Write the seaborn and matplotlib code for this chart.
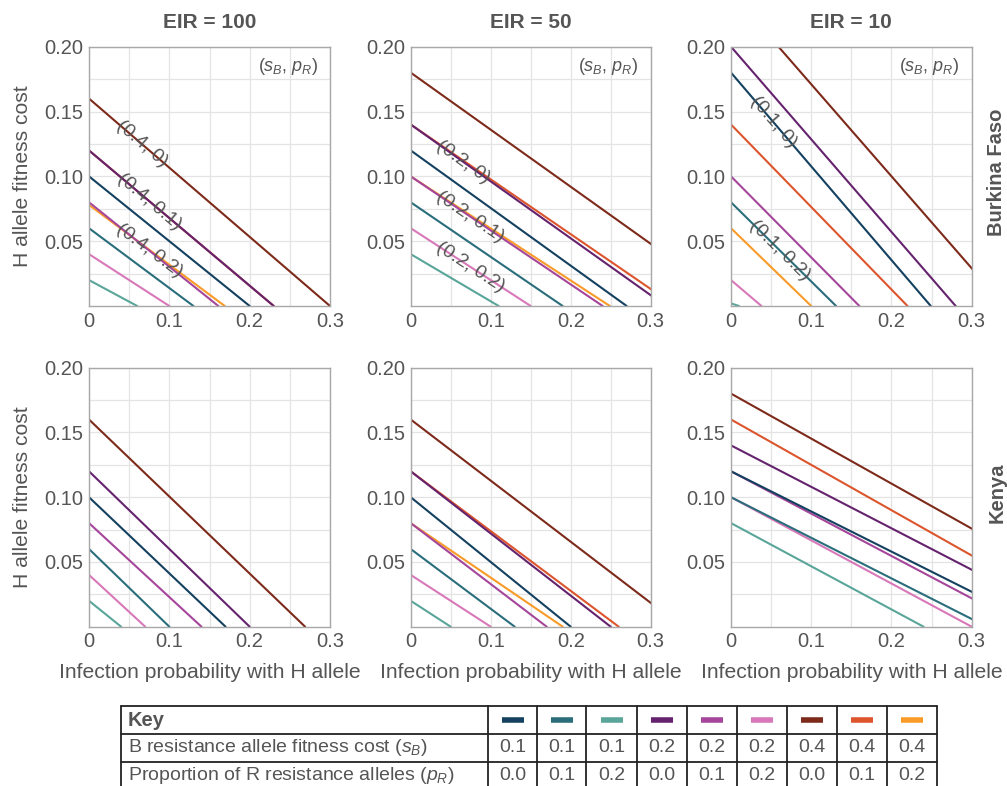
import math
import pandas as pd
import seaborn as sns
import matplotlib.pyplot as plt

# Key: B resistance allele fitness cost (s_B) and proportion of R alleles (p_R)
s_B = [0.1, 0.1, 0.1, 0.2, 0.2, 0.2, 0.4, 0.4, 0.4]
p_R = [0.0, 0.1, 0.2, 0.0, 0.1, 0.2, 0.0, 0.1, 0.2]
key_colors = ['#14415f', '#2a6e7c', '#5aa59a', '#65236e', '#a5469b',
              '#d878b9', '#7d2a1a', '#dc552d', '#f99b28']

eir_levels = [100, 50, 10]
sites = ['Burkina Faso', 'Kenya']

# Threshold lines per panel, in key order: y-intercept (H fitness cost at x=0)
# and x-intercept (infection probability where cost reaches 0). None = not shown.
bf_100_y0 = [0.10, 0.06, 0.02, 0.12, 0.08, 0.04, 0.16, 0.12, 0.078]
bf_100_x0 = [0.20, 0.13, 0.06, 0.23, 0.161, 0.10, 0.30, 0.23, 0.169]
bf_50_y0 = [0.12, 0.08, 0.04, 0.14, 0.10, 0.06, 0.18, 0.14, 0.10]
bf_50_x0 = [0.27, 0.19, 0.11, 0.319, 0.24, 0.15, 0.409, 0.331, 0.249]
bf_10_y0 = [0.18, 0.08, 0.002, 0.20, 0.10, 0.02, 0.242, 0.14, 0.06]
bf_10_x0 = [0.249, 0.131, 0.01, 0.28, 0.16, 0.038, 0.341, 0.22, 0.10]
ke_100_y0 = [0.10, 0.06, 0.02, 0.12, 0.08, 0.04, 0.16, None, None]
ke_100_x0 = [0.17, 0.10, 0.04, 0.20, 0.14, 0.07, 0.269, None, None]
ke_50_y0 = [0.10, 0.06, 0.02, 0.12, 0.08, 0.04, 0.16, 0.12, 0.08]
ke_50_x0 = [0.20, 0.13, 0.05, 0.25, 0.17, 0.10, 0.339, 0.26, 0.19]
ke_10_y0 = [0.12, 0.10, 0.08, 0.14, 0.12, 0.10, 0.18, 0.16, None]
ke_10_x0 = [0.387, 0.319, 0.24, 0.4375, 0.367, 0.30, 0.518, 0.457, None]

panel_y0 = [[bf_100_y0, bf_50_y0, bf_10_y0], [ke_100_y0, ke_50_y0, ke_10_y0]]
panel_x0 = [[bf_100_x0, bf_50_x0, bf_10_x0], [ke_100_x0, ke_50_x0, ke_10_x0]]

# contour labels: (key used for the text, line it sits on, x position)
bf_100_labels = [(6, 6, 0.066), (7, 7, 0.0756), (8, 8, 0.0756)]
bf_50_labels = [(3, 3, 0.066), (4, 4, 0.074), (5, 5, 0.074)]
bf_10_labels = [(0, 0, 0.053), (2, 1, 0.061)]
panel_labels = [[bf_100_labels, bf_50_labels, bf_10_labels], [[], [], []]]

key_names = [f'({s:g}, {p:g})' for s, p in zip(s_B, p_R)]
palette = dict(zip(key_names, key_colors))
draw_order = key_names[::-1]  # 0.1 series end up on top

sns.set_style('white')
plt.rcParams['font.family'] = ['Liberation Sans', 'DejaVu Sans']
plt.rcParams['mathtext.fontset'] = 'custom'
plt.rcParams['mathtext.rm'] = 'Liberation Sans'
plt.rcParams['mathtext.it'] = 'Liberation Sans:italic'

TXT = '#555555'
W, H = 1007, 786
fig = plt.figure(figsize=(W / 100, H / 100), dpi=100)
cols = [(89, 330), (410.7, 650.7), (731, 971.7)]
rows = [(46.7, 306), (367.7, 626.7)]

for r, (top, bot) in enumerate(rows):
    for c, (left, right) in enumerate(cols):
        ax = fig.add_axes([left / W, 1 - bot / H, (right - left) / W, (bot - top) / H])
        recs = []
        for k, (y0, x0) in enumerate(zip(panel_y0[r][c], panel_x0[r][c])):
            if y0 is None:
                continue
            recs.append({'x': 0.0, 'y': y0, 'key': key_names[k]})
            recs.append({'x': x0, 'y': 0.0, 'key': key_names[k]})
        df = pd.DataFrame(recs)
        order = [k for k in draw_order if k in set(df['key'])]
        sns.lineplot(data=df, x='x', y='y', hue='key', hue_order=order, palette=palette,
                     estimator=None, sort=False, legend=False, lw=1.5, ax=ax)
        ax.set_xlim(0, 0.3)
        ax.set_ylim(0, 0.2)
        ax.set_xlabel('')
        ax.set_ylabel('')
        ax.set_xticks([0, 0.05, 0.1, 0.15, 0.2, 0.25, 0.3])
        ax.set_xticklabels(['0', '', '0.1', '', '0.2', '', '0.3'])
        ax.set_yticks([0.025, 0.05, 0.075, 0.1, 0.125, 0.15, 0.175, 0.2])
        ax.set_yticklabels(['', '0.05', '', '0.10', '', '0.15', '', '0.20'])
        ax.grid(True, color='#e4e4e4', lw=0.9)
        ax.set_axisbelow(True)
        ax.tick_params(direction='in', length=2.5, color='#aaaaaa', labelcolor=TXT,
                       labelsize=14.5, pad=4)
        for sp in ax.spines.values():
            sp.set_color('#a8a8a8')
            sp.set_linewidth(1.0)

        # rotated contour labels along the lines
        for tk, lk, lx in panel_labels[r][c]:
            y0, x0 = panel_y0[r][c][lk], panel_x0[r][c][lk]
            ly = y0 * (1 - lx / x0)
            p0 = ax.transData.transform((0, y0))
            p1 = ax.transData.transform((x0, 0))
            ang = math.degrees(math.atan2(p1[1] - p0[1], p1[0] - p0[0]))
            ax.text(lx, ly, key_names[tk], rotation=ang, rotation_mode='anchor',
                    ha='center', va='center', fontsize=14, color=TXT)
        if r == 0:
            ax.text(0.95, 0.925, r'($s_B$, $p_R$)', transform=ax.transAxes,
                    ha='right', va='center', fontsize=13, color=TXT)
            fig.text((left + right) / 2 / W, 1 - 23 / H, f'EIR = {eir_levels[c]}',
                     ha='center', va='center', fontsize=15, fontweight='bold', color=TXT)
        if r == 1:
            fig.text((left + right) / 2 / W, 1 - 672 / H, 'Infection probability with H allele',
                     ha='center', va='center', fontsize=15.2, color=TXT)
        if c == 0:
            fig.text(23 / W, 1 - (top + bot) / 2 / H, 'H allele fitness cost', rotation=90,
                     ha='center', va='center', fontsize=15.2, color=TXT)
        if c == 2:
            fig.text(997 / W, 1 - ((top + bot) / 2 - 4) / H, sites[r], rotation=90,
                     ha='center', va='center', fontsize=14.5, fontweight='bold', color=TXT)

# key table below the panels
ax_t = fig.add_axes([121 / W, 1 - 790 / H, (937 - 121) / W, (790 - 706) / H])
ax_t.set_xlim(121, 937)
ax_t.set_ylim(790, 706)
ax_t.axis('off')
col_x = [121, 488, 537, 586, 637, 687, 737, 787, 837, 887, 937]
row_y = [706, 734, 762, 790]
for yy in row_y:
    ax_t.plot([col_x[0], col_x[-1]], [yy, yy], color='#222222', lw=1.3, clip_on=False)
for xx in col_x:
    ax_t.plot([xx, xx], [row_y[0], row_y[-1]], color='#222222', lw=1.3, clip_on=False)

row_mid = [(row_y[i] + row_y[i + 1]) / 2 for i in range(3)]
ax_t.text(128, row_mid[0], 'Key', ha='left', va='center', fontsize=14.5,
          fontweight='bold', color=TXT)
ax_t.text(128, row_mid[1], r'B resistance allele fitness cost ($s_B$)', ha='left',
          va='center', fontsize=14, color=TXT)
ax_t.text(128, row_mid[2], r'Proportion of R resistance alleles ($p_R$)', ha='left',
          va='center', fontsize=14, color=TXT)
for i in range(9):
    cx = (col_x[i + 1] + col_x[i + 2]) / 2
    ax_t.plot([cx - 11, cx + 11], [row_mid[0], row_mid[0]], color=key_colors[i],
              lw=4, solid_capstyle='butt')
    ax_t.text(cx, row_mid[1], f'{s_B[i]:.1f}', ha='center', va='center', fontsize=14, color=TXT)
    ax_t.text(cx, row_mid[2], f'{p_R[i]:.1f}', ha='center', va='center', fontsize=14, color=TXT)

fig.savefig('out.png', dpi=100)
